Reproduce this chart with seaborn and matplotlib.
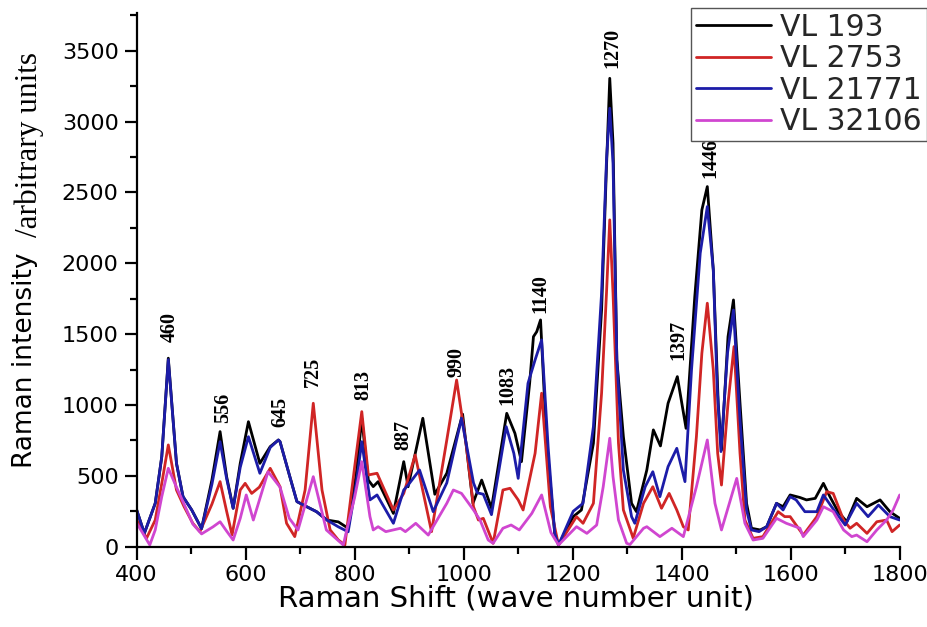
import matplotlib
matplotlib.use("Agg")
import matplotlib.pyplot as plt
from matplotlib.ticker import MultipleLocator
import seaborn as sns
import pandas as pd

# ---------------- data ----------------
labels = ["VL 193", "VL 2753", "VL 21771", "VL 32106"]
colors = ["#000000", "#d02525", "#1c1ca8", "#d046d0"]

x_vl193 = [400, 414, 434, 446, 458, 473, 485, 501, 519, 538, 553, 565, 577, 590, 605, 626, 645, 660,
           663, 681, 694, 712, 730, 749, 770, 788, 803, 813, 825, 834, 843, 871, 890, 898, 925, 947,
           969, 998, 1017, 1033, 1051, 1079, 1094, 1106, 1121, 1128, 1134, 1141, 1152, 1167, 1174,
           1201, 1216, 1238, 1253, 1262, 1268, 1274, 1281, 1293, 1308, 1317, 1336, 1348, 1361, 1375,
           1392, 1408, 1424, 1437, 1447, 1458, 1467, 1473, 1485, 1495, 1507, 1519, 1528, 1544, 1556,
           1574, 1586, 1599, 1617, 1629, 1645, 1660, 1672, 1687, 1703, 1721, 1740, 1764, 1782, 1800]
y_vl193 = [259, 94, 306, 635, 1330, 588, 353, 259, 127, 470, 812, 494, 271, 588, 882, 588, 706, 753,
           741, 494, 318, 282, 247, 188, 175, 130, 520, 906, 470, 424, 459, 235, 600, 423, 906, 370,
           518, 935, 306, 470, 271, 941, 800, 600, 1153, 1482, 1517, 1600, 753, 94, 12,
           212, 259, 730, 1670, 2682, 3305, 2847, 1318, 776, 306, 247, 541, 824, 711, 1012,
           1200, 835, 1764, 2376, 2541, 1953, 1012, 682, 1482, 1741, 1012, 306, 130, 118, 141,
           306, 282, 365, 347, 330, 341, 447, 353, 247, 176, 341, 282, 330, 247, 200]

x_vl2753 = [400, 418, 434, 446, 458, 473, 487, 503, 516, 538, 553, 565, 575, 590, 599, 611, 625, 645,
            663, 675, 690, 709, 724, 740, 755, 770, 782, 800, 813, 825, 841, 871, 890, 911, 941, 969,
            987, 1005, 1018, 1027, 1036, 1054, 1072, 1085, 1100, 1109, 1131, 1143, 1159, 1174, 1207,
            1219, 1238, 1253, 1262, 1268, 1274, 1284, 1293, 1308, 1311, 1330, 1347, 1363, 1377, 1391,
            1403, 1412, 1427, 1437, 1447, 1458, 1466, 1473, 1485, 1496, 1507, 1516, 1531, 1549, 1577,
            1589, 1599, 1623, 1648, 1666, 1678, 1697, 1709, 1721, 1740, 1758, 1776, 1786, 1800]
y_vl2753 = [188, 59, 188, 447, 718, 400, 282, 165, 106, 300, 459, 250, 83, 400, 447, 376, 420, 553,
            423, 165, 71, 400, 1012, 400, 118, 47, 12, 565, 953, 506, 518, 259, 376, 647, 106, 753,
            1176, 706, 282, 188, 200, 24, 400, 412, 330, 259, 659, 1083, 282, 12, 212,
            165, 306, 1083, 1788, 2306, 1788, 730, 259, 94, 60, 306, 423, 271, 376, 259,
            141, 118, 776, 1365, 1718, 1247, 659, 435, 1012, 1412, 659, 188, 59, 71, 247,
            212, 212, 82, 212, 388, 376, 188, 130, 165, 94, 176, 188, 106, 153]

x_vl21771 = [400, 414, 434, 446, 458, 473, 485, 501, 519, 538, 553, 565, 577, 590, 605, 626, 645, 660,
             663, 681, 694, 712, 730, 749, 770, 788, 803, 813, 828, 841, 871, 890, 898, 919, 944, 969,
             996, 1018, 1025, 1036, 1051, 1078, 1092, 1100, 1118, 1131, 1143, 1155, 1167, 1174, 1201,
             1219, 1238, 1253, 1262, 1268, 1274, 1281, 1293, 1308, 1314, 1333, 1347, 1360, 1375, 1391,
             1406, 1418, 1434, 1447, 1458, 1465, 1472, 1484, 1495, 1507, 1519, 1528, 1542, 1556, 1574,
             1586, 1599, 1610, 1626, 1648, 1660, 1675, 1700, 1721, 1742, 1761, 1782, 1800]
y_vl21771 = [259, 94, 306, 635, 1320, 588, 353, 259, 127, 440, 741, 480, 271, 560, 776, 518, 700, 753,
             741, 494, 318, 282, 247, 188, 140, 105, 450, 741, 330, 365, 165, 400, 435, 541, 247, 450,
             906, 450, 380, 370, 226, 847, 659, 482, 1153, 1318, 1459, 700, 94, 12, 250,
             306, 847, 1788, 2729, 3094, 2706, 1318, 541, 212, 165, 423, 529, 353, 565, 694,
             459, 1247, 2071, 2400, 1953, 1129, 671, 1365, 1670, 894, 259, 118, 106, 141, 306,
             259, 353, 330, 247, 247, 365, 282, 153, 306, 212, 294, 212, 188]

x_vl32106 = [400, 424, 434, 446, 458, 473, 487, 503, 519, 540, 553, 565, 577, 590, 601, 614, 641, 663,
             680, 696, 724, 748, 779, 800, 813, 828, 834, 843, 857, 884, 893, 912, 935, 969, 981, 996,
             1018, 1030, 1045, 1054, 1072, 1087, 1102, 1125, 1143, 1160, 1174, 1207, 1226, 1244, 1256,
             1268, 1274, 1284, 1299, 1305, 1330, 1336, 1360, 1382, 1403, 1427, 1447, 1461, 1473, 1501,
             1516, 1531, 1549, 1574, 1592, 1617, 1623, 1648, 1660, 1678, 1697, 1712, 1721, 1740, 1758,
             1776, 1788, 1800]
y_vl32106 = [167, 12, 118, 353, 553, 420, 300, 160, 90, 140, 176, 110, 47, 200, 365, 188, 529, 420,
             200, 118, 494, 118, 12, 350, 600, 212, 118, 141, 106, 130, 106, 165, 82, 306, 400, 376,
             259, 188, 47, 24, 130, 153, 118, 235, 365, 100, 12, 141, 94, 153, 423,
             765, 494, 188, 24, 15, 130, 141, 71, 130, 71, 423, 753, 306, 118, 482,
             165, 47, 59, 200, 165, 130, 71, 188, 282, 247, 118, 71, 82, 35, 118,
             188, 259, 365]

peak_names = ["460", "556", "645", "725", "813", "887", "990", "1083", "1140", "1270", "1397", "1446"]
peak_x = [461, 559, 663, 724, 816, 889, 987, 1080, 1140, 1272, 1394, 1453]
peak_y = [1445, 871, 847, 1129, 1035, 682, 1200, 1000, 1647, 3378, 1318, 2600]

xticks = [400, 600, 800, 1000, 1200, 1400, 1600, 1800]
yticks = [0, 500, 1000, 1500, 2000, 2500, 3000, 3500]

# ---------------- build long table ----------------
frames = []
for lab, xs, ys in zip(labels,
                       [x_vl193, x_vl2753, x_vl21771, x_vl32106],
                       [y_vl193, y_vl2753, y_vl21771, y_vl32106]):
    frames.append(pd.DataFrame({"shift": xs, "intensity": ys, "sample": lab}))
df = pd.concat(frames, ignore_index=True)

# ---------------- plot ----------------
sns.set_theme(style="white")
plt.rcParams["font.family"] = ["DejaVu Sans"]

fig = plt.figure(figsize=(9.28, 6.27), dpi=100)
ax = fig.add_axes([0.1473, 0.1281, 0.8222, 0.8512])

sns.lineplot(data=df, x="shift", y="intensity", hue="sample", hue_order=labels,
             palette=dict(zip(labels, colors)), estimator=None, sort=True,
             linewidth=2.0, ax=ax, legend=False)

ax.set_xlim(400, 1800)
ax.set_ylim(0, 3766)
ax.set_xticks(xticks)
ax.set_yticks(yticks)
ax.xaxis.set_minor_locator(MultipleLocator(100))
ax.yaxis.set_minor_locator(MultipleLocator(250))
ax.tick_params(axis="both", which="major", direction="out", length=9, width=1.6,
               labelsize=16, color="black", labelcolor="black", pad=4)
ax.tick_params(axis="both", which="minor", direction="out", length=5, width=1.6, color="black")
ax.tick_params(bottom=True, left=True, which="both")
for side in ["top", "right"]:
    ax.spines[side].set_visible(False)
for side in ["left", "bottom"]:
    ax.spines[side].set_color("black")
    ax.spines[side].set_linewidth(1.6)
ax.set_xlabel("")
ax.set_ylabel("")

# peak annotations
for name, px, py in zip(peak_names, peak_x, peak_y):
    ax.text(px, py, name, rotation=90, ha="center", va="bottom",
            family=["Liberation Serif", "DejaVu Serif"], fontweight="bold", fontsize=14.5,
            color="black")

# axis labels
fig.text(0.556, 0.046, "Raman Shift (wave number unit)", ha="center", va="center",
         fontsize=21, color="black")
fig.text(0.027, 0.425, "Raman intensity", rotation=90, ha="center", va="center",
         fontsize=19, color="black")
fig.text(0.032, 0.769, "/arbitrary units", rotation=90, ha="center", va="center",
         family=["Liberation Serif", "DejaVu Serif"], fontsize=22.5, color="black")

# legend
handles = [plt.Line2D([], [], color=c, linewidth=2) for c in colors]
leg = fig.legend(handles, labels, loc="upper right", bbox_to_anchor=(0.999, 0.988),
                 bbox_transform=fig.transFigure, fontsize=21.5, frameon=True, fancybox=False,
                 handlelength=2.5, handletextpad=0.3, labelspacing=0.08, borderpad=0.18,
                 borderaxespad=0)
leg.get_frame().set_edgecolor("#555555")
leg.get_frame().set_linewidth(1.0)
leg.get_frame().set_alpha(1)

fig.savefig("out.png", dpi=100, facecolor="white")
